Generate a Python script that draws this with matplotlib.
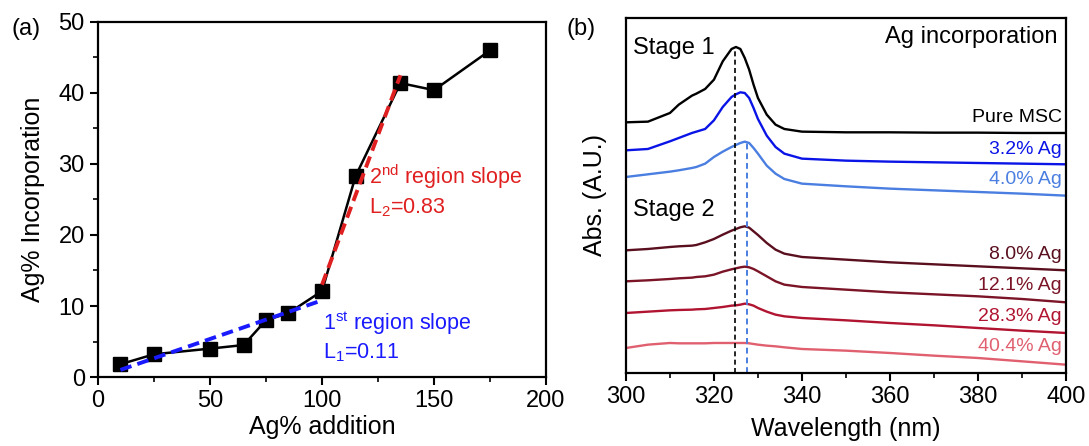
import matplotlib
matplotlib.use('Agg')
import matplotlib.pyplot as plt
from matplotlib.ticker import MultipleLocator

plt.rcParams['font.family'] = ['Liberation Sans', 'DejaVu Sans']
plt.rcParams['mathtext.fontset'] = 'custom'
plt.rcParams['mathtext.rm'] = 'Liberation Sans'
plt.rcParams['mathtext.it'] = 'Liberation Sans'

# Panel (a): Ag incorporation vs addition
ag_addition = [10, 25, 50, 65, 75, 85, 100, 115, 135, 150, 175]
ag_incorporation = [1.8, 3.2, 4.0, 4.5, 8.0, 9.0, 12.1, 28.3, 41.4, 40.4, 46.0]
fit1_x = [10, 100]
fit1_y = [1.0, 10.8]
fit2_x = [100, 135]
fit2_y = [13.0, 42.5]

# Panel (b): absorption spectra (arbitrary offset units)
wavelength = [300, 305, 310, 312, 315, 316, 318, 320, 322, 324, 325, 326, 327, 328, 329,
              330, 332, 334, 336, 340, 350, 360, 370, 380, 390, 400]
abs_pure = [752, 754, 780, 805, 832, 838, 852, 880, 935, 972, 978, 972, 945, 910, 865,
            825, 775, 745, 732, 724, 722, 722, 721, 721, 720, 720]
abs_32 = [668, 672, 695, 705, 720, 724, 732, 758, 798, 828, 836, 842, 840, 825, 795,
          762, 712, 678, 658, 643, 637, 634, 632, 630, 628, 626]
abs_40 = [588, 596, 604, 608, 615, 618, 628, 648, 664, 678, 684, 690, 694, 690, 675,
          658, 622, 598, 582, 568, 560, 553, 548, 543, 538, 532]
abs_80 = [368, 372, 378, 380, 382, 384, 392, 402, 415, 427, 432, 437, 440, 436, 425,
          414, 390, 370, 358, 348, 340, 332, 326, 320, 314, 308]
abs_121 = [275, 278, 282, 284, 286, 288, 290, 295, 304, 311, 314, 317, 319, 317, 312,
           305, 290, 275, 265, 258, 250, 242, 236, 230, 222, 212]
abs_283 = [180, 184, 188, 189, 190, 191, 192, 195, 198, 202, 203, 205, 208, 206, 202,
           195, 184, 175, 170, 165, 158, 150, 143, 135, 127, 120]
abs_404 = [75, 85, 90, 89, 89, 89, 89, 90, 90, 90, 90, 90, 90, 89, 87,
           85, 82, 80, 77, 72, 67, 60, 52, 45, 35, 25]
spectra = [abs_pure, abs_32, abs_40, abs_80, abs_121, abs_283, abs_404]
spec_labels = ["Pure MSC", "3.2% Ag", "4.0% Ag", "8.0% Ag", "12.1% Ag", "28.3% Ag", "40.4% Ag"]
spec_colors = ["#000000", "#0a14e6", "#4a7ee0", "#5a0f1e", "#7a1426", "#b01430", "#e06070"]
label_y = [765, 670, 580, 355, 262, 168, 78]
peak_stage1 = 324.8
peak_stage2 = 327.4

fig = plt.figure(figsize=(10.89, 4.46), dpi=100)
ax1 = fig.add_axes([0.0900, 0.1547, 0.4114, 0.796])
ax2 = fig.add_axes([0.5748, 0.1637, 0.4040, 0.796])

for ax in (ax1, ax2):
    for s in ax.spines.values():
        s.set_linewidth(1.6)
    ax.tick_params(which='major', direction='out', length=6, width=1.5, labelsize=17,
                   top=False, right=False)
    ax.tick_params(which='minor', direction='out', length=3.5, width=1.2, top=False, right=False)

# ---- panel (a)
ax1.plot(fit1_x, fit1_y, '--', color='#1a1aff', lw=2.8, dashes=(3, 1.6), zorder=3)
ax1.plot(fit2_x, fit2_y, '--', color='#e02020', lw=2.8, dashes=(3, 1.6), zorder=3)
ax1.plot(ag_addition, ag_incorporation, '-s', color='black', lw=1.8, ms=9.5, zorder=2)
ax1.set_xlim(0, 200)
ax1.set_ylim(0, 50)
ax1.xaxis.set_major_locator(MultipleLocator(50))
ax1.xaxis.set_minor_locator(MultipleLocator(25))
ax1.yaxis.set_major_locator(MultipleLocator(10))
ax1.yaxis.set_minor_locator(MultipleLocator(5))
ax1.set_xlabel("Ag% addition", fontsize=18, labelpad=2)
ax1.set_ylabel("Ag% Incorporation", fontsize=18, labelpad=10)
ax1.text(121, 28.2, r"2$^{\rm nd}$ region slope", color='#e02020', fontsize=15.5, va='center')
ax1.text(121, 23.8, r"L$_2$=0.83", color='#e02020', fontsize=15.5, va='center')
ax1.text(100.5, 7.6, r"1$^{\rm st}$ region slope", color='#1a1aff', fontsize=15.5, va='center')
ax1.text(100.5, 3.4, r"L$_1$=0.11", color='#1a1aff', fontsize=15.5, va='center')
fig.text(0.011, 0.935, "(a)", fontsize=17, va='center')

# ---- panel (b)
for vals, lab, col, ly in zip(spectra, spec_labels, spec_colors, label_y):
    ax2.plot(wavelength, vals, color=col, lw=1.7)
    ax2.text(399.0, ly, lab, color=col, fontsize=14, ha='right', va='center')
ax2.plot([peak_stage1, peak_stage1], [0, max(abs_pure)], '--', color='black', lw=1.2, dashes=(3, 2))
ax2.plot([peak_stage2, peak_stage2], [0, max(abs_40)], '--', color='#4a7ee0', lw=1.4, dashes=(3, 2))
ax2.set_xlim(300, 400)
ax2.set_ylim(0, 1065)
ax2.xaxis.set_major_locator(MultipleLocator(20))
ax2.xaxis.set_minor_locator(MultipleLocator(10))
ax2.set_yticks([])
ax2.set_xlabel("Wavelength (nm)", fontsize=18, labelpad=6)
ax2.set_ylabel("Abs. (A.U.)", fontsize=18, labelpad=14)
ax2.text(301.5, 975, "Stage 1", fontsize=17, va='center')
ax2.text(301.5, 488, "Stage 2", fontsize=17, va='center')
ax2.text(398.2, 1008, "Ag incorporation", fontsize=17, ha='right', va='center')
fig.text(0.520, 0.935, "(b)", fontsize=17, va='center')

fig.savefig("out.png", dpi=100)
